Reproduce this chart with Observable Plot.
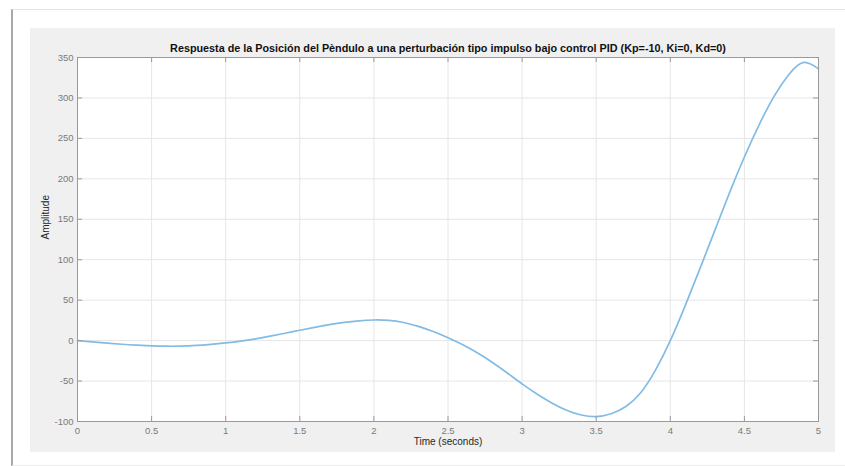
<!DOCTYPE html>
<html><head><meta charset="utf-8">
<script src="https://cdn.jsdelivr.net/npm/d3@7"></script>
<script src="https://cdn.jsdelivr.net/npm/@observablehq/plot@0.6"></script>
<style>
html,body{margin:0;padding:0;background:#fff;}
#wrap{position:relative;width:845px;height:466px;overflow:hidden;font-family:"Liberation Sans",Arial,sans-serif;}
#page{position:absolute;left:11px;top:9px;width:840px;height:455px;border-left:2px solid #a9a9a9;border-top:1px solid #e4e4e4;border-bottom:1px solid #ececec;}
#fig{position:absolute;left:30px;top:28px;width:805px;height:424px;background:#f0f0f0;}
#chart{position:absolute;left:0;top:0;}
</style></head><body>
<div id="wrap"><div id="page"></div><div id="fig"></div><div id="chart"></div></div>
<script>
const time = [0,0.1,0.2,0.3,0.4,0.5,0.6,0.7,0.8,0.9,1.0,1.1,1.2,1.3,1.4,1.5,1.6,1.7,1.8,1.9,2.0,2.1,2.2,2.3,2.4,2.5,2.6,2.7,2.8,2.9,3.0,3.1,3.2,3.3,3.4,3.5,3.6,3.7,3.8,3.9,4.0,4.1,4.2,4.3,4.4,4.5,4.6,4.7,4.8,4.9,5.0];
const amplitude = [0,-1.5,-3,-4.5,-5.6,-6.4,-6.9,-6.8,-6,-4.6,-2.8,-0.6,2.2,5.5,9.1,12.8,16.4,19.7,22.5,24.5,25.5,25,22.4,17.6,11.2,3.6,-5.2,-15.4,-27,-40,-53.5,-66,-77,-86,-92,-94,-90.5,-81.5,-64.5,-36.5,0,43,89,136,183,227,267,302,329,344,336];
const xTicks = [0,0.5,1,1.5,2,2.5,3,3.5,4,4.5,5];
const yTicks = [-100,-50,0,50,100,150,200,250,300,350];
const titleText = "Respuesta de la Posición del Pèndulo a una perturbación tipo impulso bajo control PID (Kp=-10, Ki=0, Kd=0)";
const xLabel = "Time (seconds)";
const yLabel = "Amplitude";

const data = time.map((t, i) => ({t, a: amplitude[i]}));
const frameH = 364;
const frameW = 741;

const chart = Plot.plot({
  width: 845,
  height: 466,
  marginLeft: 77,
  marginRight: 27,
  marginTop: 57,
  marginBottom: 45,
  style: {background: "transparent", fontFamily: "'Liberation Sans', Arial, sans-serif", fontSize: "9.5px", overflow: "visible"},
  x: {domain: [0, 5], ticks: xTicks},
  y: {domain: [-100, 350], ticks: yTicks},
  marks: [
    Plot.frame({fill: "white", stroke: "none"}),
    Plot.gridX(xTicks, {stroke: "#e6e6e6", strokeOpacity: 1}),
    Plot.gridY(yTicks, {stroke: "#e6e6e6", strokeOpacity: 1}),
    Plot.line(data, {x: "t", y: "a", stroke: "#82bce5", strokeWidth: 1.7, curve: "natural"}),
    Plot.ruleX(xTicks, {x: d => d, stroke: "#9a9a9a", insetTop: frameH - 5}),
    Plot.ruleX(xTicks, {x: d => d, stroke: "#9a9a9a", insetBottom: frameH - 5}),
    Plot.ruleY(yTicks, {y: d => d, stroke: "#9a9a9a", insetRight: frameW - 5}),
    Plot.ruleY(yTicks, {y: d => d, stroke: "#9a9a9a", insetLeft: frameW - 5}),
    Plot.frame({stroke: "#9a9a9a"}),
    Plot.axisX(xTicks, {tickSize: 0, tickPadding: 6, fill: "#7a7a7a", fontSize: 9.5, label: null, tickFormat: d => String(d)}),
    Plot.axisY(yTicks, {tickSize: 0, tickPadding: 4, fill: "#7a7a7a", fontSize: 9.5, label: null, tickFormat: d => String(d)}),
    Plot.text([titleText], {frameAnchor: "top", dy: -13, text: d => d, fontWeight: "bold", fontSize: 10.8, fill: "#111"}),
    Plot.text([xLabel], {frameAnchor: "bottom", dy: 23, text: d => d, fontSize: 10, fill: "#262626"}),
    Plot.text([yLabel], {frameAnchor: "left", dx: -32, rotate: -90, text: d => d, fontSize: 10, fill: "#262626"})
  ]
});
document.getElementById("chart").appendChild(chart);
</script>
</body></html>
